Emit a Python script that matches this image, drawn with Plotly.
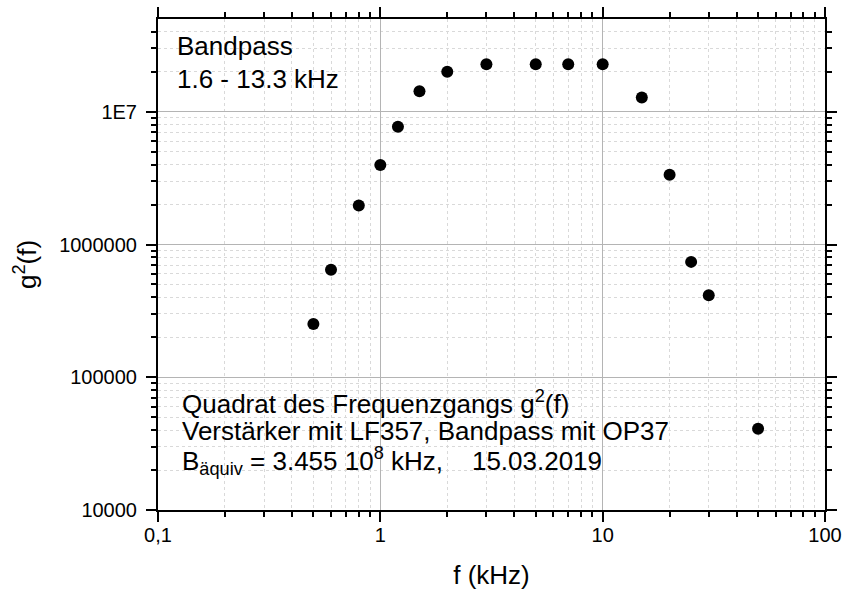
import plotly.graph_objects as go

# Data (frequency in kHz, squared frequency response g^2(f))
freq_khz = [0.5, 0.6, 0.8, 1.0, 1.2, 1.5, 2, 3, 5, 7, 10, 15, 20, 25, 30, 50]
g2 = [2.52e5, 6.45e5, 1.97e6, 3.98e6, 7.7e6, 1.43e7, 2.0e7, 2.28e7, 2.28e7, 2.28e7,
      2.28e7, 1.28e7, 3.35e6, 7.4e5, 4.15e5, 4.1e4]

x_tickvals = [0.1, 1, 10, 100]
x_ticktext = ["0,1", "1", "10", "100"]
y_tickvals = [1e4, 1e5, 1e6, 1e7]
y_ticktext = ["10000", "100000", "1000000", "1E7"]

FONT = "Liberation Sans, Arial, sans-serif"

x_minor = [m * 10 ** e for e in range(-1, 2) for m in range(2, 10)]
y_minor = [m * 10 ** e for e in range(4, 8) for m in range(2, 10) if m * 10 ** e < 5e7]

FIG_W, FIG_H = 844, 590
# plot-area edges in window pixels
L, R, T, B = 158, 825, 19, 510
ml, mr, mt, mb = L, FIG_W - R, T, FIG_H - B
W, H = R - L, B - T

fig = go.Figure()
fig.add_trace(go.Scatter(
    x=freq_khz, y=g2, mode="markers",
    marker=dict(color="black", size=12, line=dict(width=0)),
    showlegend=False, cliponaxis=False,
))

axis_common = dict(
    type="log", automargin=False,
    showline=True, linecolor="black", linewidth=2, mirror="ticks",
    ticks="outside", ticklen=10, tickwidth=1.5, tickcolor="black",
    showgrid=True, gridcolor="#b4b4b4", gridwidth=1,
    zeroline=False,
    tickfont=dict(family=FONT, size=20, color="black"),
)

fig.update_xaxes(
    **axis_common,
    range=[-1, 2],
    tickvals=x_tickvals, ticktext=x_ticktext,
    ticklabelstandoff=-4,
    minor=dict(tickvals=x_minor, ticks="outside", ticklen=5, tickwidth=1.5, tickcolor="black",
               showgrid=True, gridcolor="#d9d9d9", griddash="dot", gridwidth=1),
    title=dict(text="f (kHz)", font=dict(family=FONT, size=26, color="black"), standoff=30),
)
fig.update_yaxes(
    **axis_common,
    range=[4, 7.699],
    tickvals=y_tickvals, ticktext=y_ticktext,
    ticklabelstandoff=5,
    minor=dict(tickvals=y_minor, ticks="outside", ticklen=5, tickwidth=1.5, tickcolor="black",
               showgrid=True, gridcolor="#d9d9d9", griddash="dot", gridwidth=1),
    title=dict(text="g<sup>2</sup>(f)", font=dict(family=FONT, size=26, color="black"), standoff=15),
)


def px(xp):
    return (xp - L) / W


def py(yp):
    return (B - yp) / H


lines = [
    ("Bandpass", 175, 46),
    ("1.6 - 13.3 kHz", 175, 79),
    ("Quadrat des Frequenzgangs g<sup>2</sup>(f)", 180, 402),
    ("Verstärker mit LF357, Bandpass mit OP37", 180, 431),
    ("B<sub>äquiv</sub> = 3.455 10<sup>8</sup> kHz,\u00a0\u00a0\u00a0 15.03.2019", 180, 461),
]
for text, xp, yp in lines:
    fig.add_annotation(
        text=text, xref="paper", yref="paper", x=px(xp), y=py(yp),
        xanchor="left", yanchor="middle", showarrow=False,
        font=dict(family=FONT, size=26, color="black"),
    )

fig.update_layout(
    width=FIG_W, height=FIG_H,
    margin=dict(l=ml, r=mr, t=mt, b=mb),
    paper_bgcolor="white", plot_bgcolor="white",
    font=dict(family=FONT, color="black"),
)

fig.write_html(
    "out.html",
    config={"displayModeBar": False},
    post_script="document.body.style.margin='0';document.body.style.overflow='hidden';",
)
